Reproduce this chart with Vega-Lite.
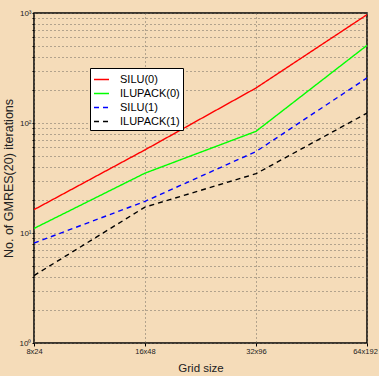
{
  "$schema": "https://vega.github.io/schema/vega-lite/v6.json",
  "width": 333,
  "height": 330,
  "autosize": "none",
  "padding": {"left": 34, "top": 13, "right": 12, "bottom": 33},
  "background": "#F5DCB9",
  "config": {
    "font": "Liberation Sans",
    "view": {"stroke": "black", "strokeWidth": 1.5},
    "axis": {"domain": false, "labelColor": "#222", "titleColor": "#222", "titleFontWeight": "normal", "gridColor": "#6e6a60", "gridDash": [1, 3], "gridWidth": 1, "gridOpacity": 1}
  },
  "data": {
    "values": [
      {"grid": "8x24", "method": "SILU(0)", "iter": 16.3},
      {"grid": "16x48", "method": "SILU(0)", "iter": 57},
      {"grid": "32x96", "method": "SILU(0)", "iter": 208},
      {"grid": "64x192", "method": "SILU(0)", "iter": 966},
      {"grid": "8x24", "method": "ILUPACK(0)", "iter": 11.0},
      {"grid": "16x48", "method": "ILUPACK(0)", "iter": 35},
      {"grid": "32x96", "method": "ILUPACK(0)", "iter": 84},
      {"grid": "64x192", "method": "ILUPACK(0)", "iter": 508},
      {"grid": "8x24", "method": "SILU(1)", "iter": 8.1},
      {"grid": "16x48", "method": "SILU(1)", "iter": 19.4},
      {"grid": "32x96", "method": "SILU(1)", "iter": 55},
      {"grid": "64x192", "method": "SILU(1)", "iter": 257},
      {"grid": "8x24", "method": "ILUPACK(1)", "iter": 4.1},
      {"grid": "16x48", "method": "ILUPACK(1)", "iter": 17.2},
      {"grid": "32x96", "method": "ILUPACK(1)", "iter": 34.6},
      {"grid": "64x192", "method": "ILUPACK(1)", "iter": 123}
    ]
  },
  "mark": {"type": "line", "strokeWidth": 1.4, "clip": true},
  "encoding": {
    "x": {
      "field": "grid", "type": "ordinal",
      "sort": ["8x24", "16x48", "32x96", "64x192"],
      "scale": {"type": "point", "padding": 0},
      "axis": {
        "title": "Grid size", "titleFontSize": 11.5, "titlePadding": 8, "labelFontSize": 7.5, "labelAngle": 0, "labelPadding": 1,
        "labelOffset": {"condition": {"test": "datum.value == '64x192'", "value": -2}, "value": 0},
        "ticks": true, "tickSize": 3, "tickColor": "black", "grid": true
      }
    },
    "y": {
      "field": "iter", "type": "quantitative",
      "scale": {"type": "log", "domain": [1, 1000], "nice": false},
      "axis": {
        "title": "No. of GMRES(20) iterations", "titleFontSize": 12.5, "titlePadding": 4,
        "values": [1,2,3,4,5,6,7,8,9,10,20,30,40,50,60,70,80,90,100,200,300,400,500,600,700,800,900,1000],
        "labelExpr": "datum.value == 1 ? '10⁰' : datum.value == 10 ? '10¹' : datum.value == 100 ? '10²' : datum.value == 1000 ? '10³' : ''",
        "labelFontSize": 8, "labelPadding": 1, "ticks": true, "tickSize": 2, "tickColor": "black", "grid": true
      }
    },
    "color": {
      "field": "method", "type": "nominal",
      "scale": {"domain": ["SILU(0)", "ILUPACK(0)", "SILU(1)", "ILUPACK(1)"], "range": ["#FF0000", "#00FF00", "#0000FF", "#000000"]},
      "legend": {
        "title": null, "orient": "none", "legendX": 56, "legendY": 55,
        "fillColor": "white", "strokeColor": "black", "padding": 3,
        "symbolType": "stroke", "symbolSize": 225, "symbolStrokeWidth": 1.5,
        "labelFontSize": 11, "labelColor": "black", "rowPadding": 0, "labelOffset": 10, "offset": 0
      }
    },
    "strokeDash": {
      "field": "method", "type": "nominal",
      "scale": {"domain": ["SILU(0)", "ILUPACK(0)", "SILU(1)", "ILUPACK(1)"], "range": [[1, 0], [1, 0], [5, 4], [5, 4]]},
      "legend": null
    }
  }
}
